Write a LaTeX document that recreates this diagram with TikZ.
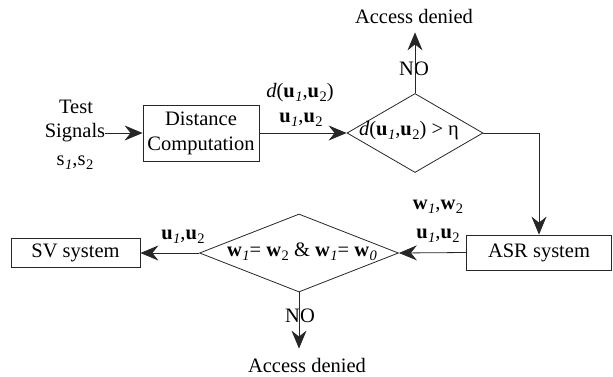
\documentclass[tikz,border=0pt]{standalone}
\usepackage{fontspec}
\setmainfont{Liberation Serif}
\usetikzlibrary{arrows.meta,shapes.geometric}
\newcommand{\sbi}[1]{\kern0.5pt\raisebox{-0.4ex}{\fontsize{14.5}{15}\selectfont\itshape #1}}
\newcommand{\sbu}[1]{\kern0.5pt\raisebox{-0.4ex}{\fontsize{14.5}{15}\selectfont #1}}
\begin{document}
\begin{tikzpicture}[x=1pt,y=-1pt,
  font=\fontsize{20.5}{25}\selectfont,
  ln/.style={draw=black!85, line width=0.8pt},
  arr/.style={ln, -{Stealth[length=18pt,width=15pt,inset=6pt]}},
  box/.style={ln, rectangle, inner sep=0pt, align=center},
  dia/.style={ln, diamond, inner sep=0pt},
  txt/.style={inner sep=0pt}]
\useasboundingbox (0,0) rectangle (613,376);
% input
\node[txt] (sig) at (75,133) {Signals};
\node[txt] (test) at (76,107) {Test};
\node[txt] (s12) at (75,163) {s\sbi{1},s\sbu{2}};
\node[box, minimum width=116pt, minimum height=56pt] (dc) at (201,133) {Distance\\Computation};
\node[dia, minimum width=136pt, minimum height=79pt] (d1) at (415,133) {};
\node[txt] (d1t) at (409,131) {\textit{d}(\textbf{u}\sbi{1},\textbf{u}\sbu{2}) > η};
\node[txt] (l1) at (300,93) {\textit{d}(\textbf{u}\sbi{1},\textbf{u}\sbu{2})};
\node[txt] (l2) at (301,120) {\textbf{u}\sbi{1},\textbf{u}\sbu{2}};
\node[txt, anchor=base] (ad1) at (414,23) {Access denied};
\node[txt] (no1) at (414,69) {NO};
% ASR
\node[box, minimum width=145pt, minimum height=35pt] (asr) at (539,252.5) {ASR system};
\node[txt] (l3) at (438,207) {\textbf{w}\sbi{1},\textbf{w}\sbu{2}};
\node[txt] (l4) at (438,236) {\textbf{u}\sbi{1},\textbf{u}\sbu{2}};
\node[dia, minimum width=199pt, minimum height=78pt] (d2) at (299,253) {};
\node[txt] (d2t) at (302,252) {\textbf{w}\sbi{1}= \textbf{w}\sbu{2} \& \textbf{w}\sbi{1}= \textbf{w}\sbi{0}};
\node[box, minimum width=129pt, minimum height=29pt] (sv) at (75.5,253) {SV system};
\node[txt] (l5) at (183,237) {\textbf{u}\sbi{1},\textbf{u}\sbu{2}};
\node[txt] (no2) at (300,316) {NO};
\node[txt, anchor=base] (ad2) at (307,372) {Access denied};
% connectors
\draw[arr] (sig.east) -- (dc.west);
\draw[arr] (dc.east) -- (d1.west);
\draw[arr, shorten >=9pt] (d1.north) -- (ad1.south -| d1.north);
\draw[arr] (d1.east) -| (asr.north);
\draw[arr] (asr.west) -- (d2.east);
\draw[arr] (d2.west) -- (sv.east);
\draw[arr, shorten >=9pt] (d2.south) -- (d2.south |- ad2.north);
\end{tikzpicture}
\end{document}
